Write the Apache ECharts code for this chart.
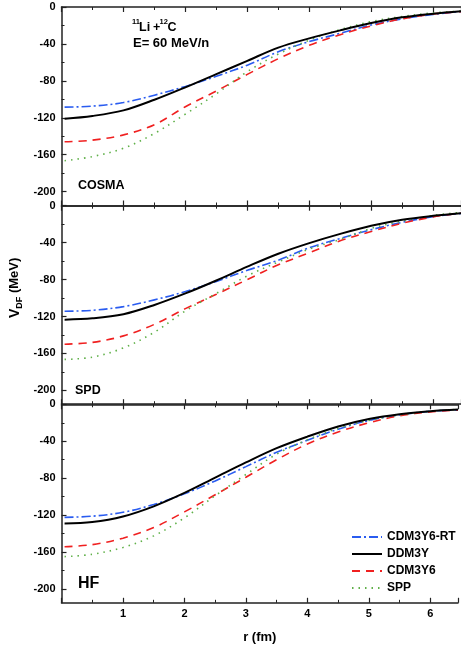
<!DOCTYPE html>
<html>
<head>
<meta charset="utf-8">
<script src="https://cdn.jsdelivr.net/npm/echarts@6/dist/echarts.min.js"></script>
<style>
  html, body { margin: 0; padding: 0; background: #fff; }
  #chart { width: 461px; height: 655px; }
</style>
</head>
<body>
<div id="chart"></div>
<script>
// Radial distance r (fm)
const r = [0.05, 0.5, 1.0, 1.5, 2.0, 2.5, 3.0, 3.5, 4.0, 4.5, 5.0, 5.5, 6.0, 6.45];

// Y-axis tick labels (MeV) and minor tick positions
const yTicks = [0, -40, -80, -120, -160, -200];
const yMinor = [-20, -60, -100, -140, -180];
// X-axis tick labels (fm)
const xTicks = [1, 2, 3, 4, 5, 6];

// Panel names (density models)
const panels = ['COSMA', 'SPD', 'HF'];
// Interaction names
const models = ['CDM3Y6-RT', 'DDM3Y', 'CDM3Y6', 'SPP'];

// COSMA density
const rtCOSMA = [-108.5, -107.4, -103.5, -95.5, -86, -75, -63, -48.5, -37.5, -28.5, -19.5, -12.8, -8, -5];
const ddCOSMA = [-121, -118, -112, -100.5, -87, -72.7, -58.3, -44, -34, -25.3, -17.4, -11.2, -7.3, -4.6];
const cdCOSMA = [-146, -144.2, -138.5, -127.5, -108, -91, -73, -56, -41.5, -30, -20.5, -12.8, -7.6, -5];
const spCOSMA = [-166.5, -162, -153, -137, -116, -94, -70, -51, -36, -24.5, -15.8, -10.3, -6.4, -4.5];

// SPD density
const rtSPD = [-114.3, -113.3, -109.3, -102, -93, -82, -70, -59, -45.5, -35.5, -26, -18, -12, -8.3];
const ddSPD = [-123.5, -122, -117.5, -107.5, -95, -81, -66, -52, -40.5, -30.5, -21.7, -15.2, -11, -8.2];
const cdSPD = [-150, -148, -141, -128.5, -111.5, -96, -80, -64, -51, -38, -28, -19, -12.2, -8];
const spSPD = [-166.5, -164, -154, -137, -114, -95, -76, -61, -47, -36.5, -24.6, -16.6, -10.5, -7.2];

// HF density
const rtHF = [-122.5, -121.2, -117, -108.5, -97, -83, -67.5, -52, -39, -27, -17.5, -11.5, -7.6, -6];
const ddHF = [-129, -127.5, -121.5, -110.5, -96, -79.5, -63, -47.5, -35, -24, -16, -10.7, -7.4, -5.7];
const cdHF = [-154.3, -152, -145, -133.5, -116.5, -98, -79, -60, -43, -30, -20, -12.5, -8.2, -6];
const spHF = [-165, -162.5, -155, -142.5, -123, -99, -76, -54, -38.5, -26, -17.5, -11.5, -7.5, -5.5];

const panelData = [
  [rtCOSMA, ddCOSMA, cdCOSMA, spCOSMA],
  [rtSPD, ddSPD, cdSPD, spSPD],
  [rtHF, ddHF, cdHF, spHF]
];

const FONT = 'Liberation Sans, Arial, sans-serif';
const AXIS_COLOR = '#222';

// line styles for each interaction
const styles = [
  { color: '#2a5cf0', width: 1.6, type: [9, 3, 2, 3] },
  { color: '#000000', width: 2, type: 'solid' },
  { color: '#f02020', width: 1.6, type: [8, 6] },
  { color: '#5fb048', width: 1.6, type: [1.5, 5] }
];

const gridTop = [7, 205.7, 404.3];
const gridH = 198.5;

const grids = gridTop.map(t => ({ left: 61.5, top: t, width: 400, height: gridH }));

const xAxes = [];
const yAxes = [];
gridTop.forEach((t, i) => {
  const isLast = i === gridTop.length - 1;
  const common = {
    type: 'value', gridIndex: i, min: 0, max: 6.45, interval: 1,
    axisLine: { show: true, onZero: false, lineStyle: { color: AXIS_COLOR, width: 1.5 } },
    axisTick: { show: true, inside: true, length: 5, lineStyle: { color: AXIS_COLOR, width: 1.2 } },
    minorTick: { show: true, splitNumber: 2, length: 3, lineStyle: { color: AXIS_COLOR, width: 1 } },
    splitLine: { show: false }
  };
  xAxes.push(Object.assign({}, common, {
    position: 'bottom',
    name: isLast ? 'r (fm)' : '',
    nameLocation: 'middle',
    nameGap: 28,
    nameTextStyle: { fontFamily: FONT, fontWeight: 'bold', fontSize: 13, color: '#000' },
    axisLabel: {
      show: isLast, margin: 6, fontFamily: FONT, fontWeight: 'bold', fontSize: 11, color: '#000',
      formatter: v => (xTicks.indexOf(v) >= 0 ? String(v) : '')
    }
  }));
  xAxes.push(Object.assign({}, common, {
    position: 'top',
    axisLabel: { show: false }
  }));
  // main y axis: labelled ticks every 40 MeV
  yAxes.push({
    type: 'value', gridIndex: i, min: -215, max: 0, position: 'left',
    axisLine: { show: true, onZero: false, lineStyle: { color: AXIS_COLOR, width: 1.5 } },
    axisTick: { show: true, inside: true, length: 5, customValues: yTicks, lineStyle: { color: AXIS_COLOR, width: 1.2 } },
    splitLine: { show: false },
    axisLabel: {
      margin: 6, fontFamily: FONT, fontWeight: 'bold', fontSize: 11, color: '#000',
      customValues: yTicks
    }
  });
});
// short minor ticks halfway between the labelled ones
gridTop.forEach((t, i) => {
  yAxes.push({
    type: 'value', gridIndex: i, min: -215, max: 0, position: 'left', offset: 0,
    axisLine: { show: false },
    axisTick: { show: true, inside: true, length: 3, customValues: yMinor, lineStyle: { color: AXIS_COLOR, width: 1 } },
    axisLabel: { show: false },
    splitLine: { show: false }
  });
});

const series = [];
panelData.forEach((sets, i) => {
  sets.forEach((vals, m) => {
    series.push({
      type: 'line',
      name: models[m],
      xAxisIndex: 2 * i,
      yAxisIndex: i,
      data: r.map((x, k) => [x, vals[k]]),
      smooth: 0.35,
      symbol: 'none',
      lineStyle: styles[m],
      itemStyle: { color: styles[m].color },
      z: m === 1 ? 3 : 2
    });
  });
});

const txt = (x, y, s, size) => ({
  type: 'text', left: x, top: y, z: 10,
  style: { text: s, fontFamily: FONT, fontWeight: 'bold', fontSize: size, fill: '#000' }
});

const option = {
  animation: false,
  backgroundColor: '#fff',
  grid: grids,
  xAxis: xAxes,
  yAxis: yAxes,
  legend: {
    data: models,
    orient: 'vertical',
    left: 346,
    top: 526,
    itemWidth: 30,
    itemHeight: 12,
    itemGap: 5,
    itemStyle: { opacity: 0 },
    textStyle: { fontFamily: FONT, fontWeight: 'bold', fontSize: 12, color: '#000' }
  },
  graphic: [
    txt(132, 18, '11', 7.5),
    txt(139, 21, 'Li', 12.5),
    txt(153, 21, '+', 12.5),
    txt(159.5, 18, '12', 7.5),
    txt(167.5, 21, 'C', 12.5),
    txt(133, 37, 'E= 60 MeV/n', 13),
    txt(78, 179, 'COSMA', 12.5),
    txt(75, 384, 'SPD', 12.5),
    txt(78, 576, 'HF', 16),
    {
      type: 'text', x: 8, y: 318, rotation: Math.PI / 2, z: 10,
      style: {
        text: '{v|V}{s|DF}{n| (MeV)}',
        rich: {
          v: { fontFamily: FONT, fontWeight: 'bold', fontSize: 14, fill: '#000', verticalAlign: 'top', lineHeight: 16 },
          s: { fontFamily: FONT, fontWeight: 'bold', fontSize: 9, fill: '#000', verticalAlign: 'bottom', lineHeight: 16, padding: [8, 0, 0, 0] },
          n: { fontFamily: FONT, fontWeight: 'bold', fontSize: 13, fill: '#000', verticalAlign: 'top', lineHeight: 16 }
        }
      }
    }
  ],
  series: series
};

const chart = echarts.init(document.getElementById('chart'), null, { renderer: 'canvas' });
chart.setOption(option);
</script>
</body>
</html>
